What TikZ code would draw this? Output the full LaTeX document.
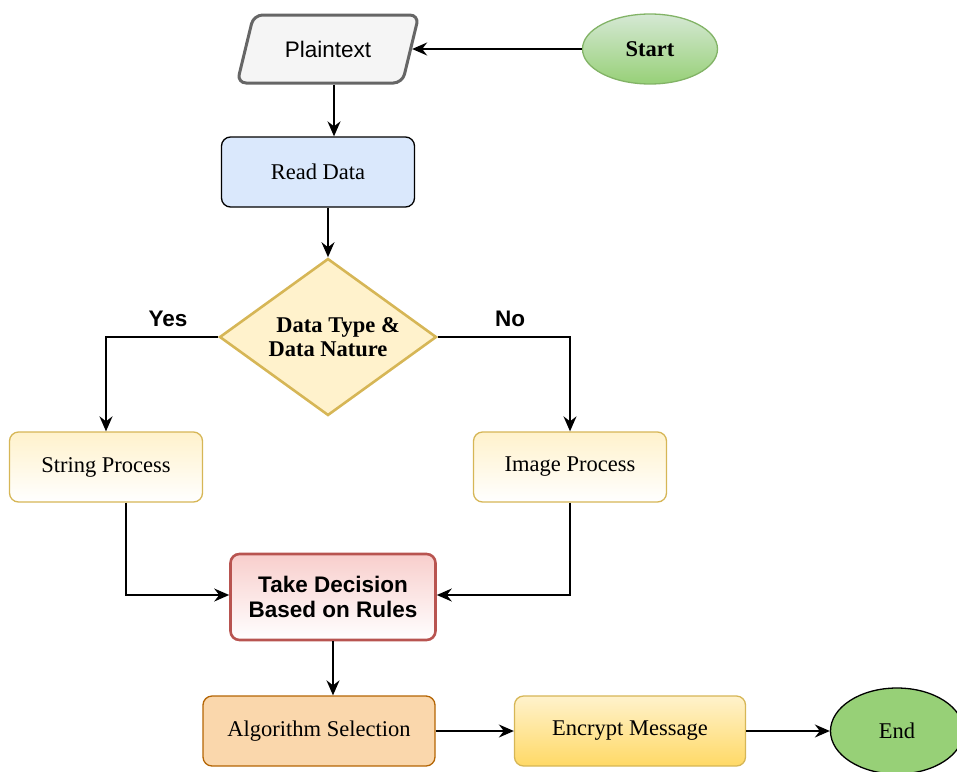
\documentclass[tikz,border=0pt]{standalone}
\usepackage{fontspec}
\setmainfont{Liberation Serif}
\setsansfont{Liberation Sans}
\usetikzlibrary{shapes.geometric,arrows.meta}

\definecolor{plainfill}{HTML}{F5F5F5}
\definecolor{plaindraw}{HTML}{666666}
\definecolor{startdraw}{HTML}{82B366}
\definecolor{starttop}{HTML}{D5E8D4}
\definecolor{greenfill}{HTML}{97D077}
\definecolor{readfill}{HTML}{DAE8FC}
\definecolor{yellowfill}{HTML}{FFF2CC}
\definecolor{yellowdraw}{HTML}{D6B656}
\definecolor{yellowdeep}{HTML}{FFD966}
\definecolor{reddraw}{HTML}{B85450}
\definecolor{redfill}{HTML}{F8CECC}
\definecolor{orangefill}{HTML}{FAD7AC}
\definecolor{orangedraw}{HTML}{B46504}

\begin{document}
\begin{tikzpicture}[x=1pt,y=-1pt,
    every node/.style={font=\fontsize{22.5}{25}\selectfont},
    box/.style={rectangle,rounded corners=9pt,minimum width=193pt,
      minimum height=70pt,line width=1.3pt,align=center},
    lbl/.style={font=\fontsize{22.5}{25}\selectfont\sffamily\bfseries},
    arr/.style={-{Stealth[length=15pt,width=13pt,inset=5pt]},line width=1.8pt}]
    \useasboundingbox (0,0) rectangle (957,771);

    % top row
    \node[trapezium,trapezium left angle=66,trapezium right angle=114,
      trapezium stretches=true,minimum width=182pt,minimum height=68pt,
      rounded corners=9pt,fill=plainfill,draw=plaindraw,line width=3pt,
      font=\fontsize{22.5}{25}\selectfont\sffamily]
      (plain) at (328,49) {Plaintext};
    \node[ellipse,minimum width=135pt,minimum height=70pt,draw=startdraw,
      line width=1.3pt,top color=starttop,bottom color=greenfill,
      font=\fontsize{22.5}{25}\selectfont\bfseries]
      (start) at (650,49) {Start};

    \node[box,fill=readfill,draw=black] (read) at (318,172) {Read Data};

    % decision
    \node[diamond,aspect=1.4,minimum width=217pt,minimum height=157pt,
      inner sep=1pt,fill=yellowfill,draw=yellowdraw,line width=2.6pt,
      align=center,font=\fontsize{22.5}{24}\selectfont\bfseries]
      (type) at (328,337) {\hspace*{0.9em}Data Type \&\\Data Nature};
    \node[lbl] (yes) at (168,319) {Yes};
    \node[lbl] (no) at (510,319) {No};

    \foreach \n/\x/\t in {string/106/String Process,image/570/Image Process}
    {\node[box,draw=yellowdraw,top color=yellowfill,bottom color=white]
      (\n) at (\x,467) {\t};}

    \node[box,minimum width=205pt,minimum height=86pt,draw=reddraw,
      line width=2.6pt,top color=redfill,bottom color=white,
      font=\fontsize{22.5}{25}\selectfont\sffamily\bfseries]
      (decide) at (333,597) {Take Decision\\Based on Rules};

    % bottom row
    \node[box,minimum width=232pt,fill=orangefill,draw=orangedraw]
      (algo) at (319,731) {Algorithm Selection};
    \node[box,minimum width=231pt,draw=yellowdraw,top color=yellowfill,
      bottom color=yellowdeep] (encrypt) at (630,731) {Encrypt Message};
    \node[ellipse,minimum width=133pt,minimum height=86pt,fill=greenfill,
      draw=black,line width=1.3pt] (end) at (897,731) {End};

    % connectors
    \draw[arr] (start) -- (plain);
    \draw[arr] ([xshift=6pt]plain.south) -- ([xshift=6pt]plain.south |- read.north);
    \draw[arr] (type.north |- read.south) -- (type.north);
    \draw[arr] (type.west) -| (string.north);
    \draw[arr] (type.east) -| (image.north);
    \draw[arr] ([xshift=20pt]string.south) |- ([yshift=2pt]decide.west);
    \draw[arr] (image.south) |- ([yshift=2pt]decide.east);
    \draw[arr] (decide.south) -- (decide.south |- algo.north);
    \foreach \a/\b in {algo/encrypt,encrypt/end}
    {\draw[arr] (\a) -- (\b);}
\end{tikzpicture}
\end{document}
